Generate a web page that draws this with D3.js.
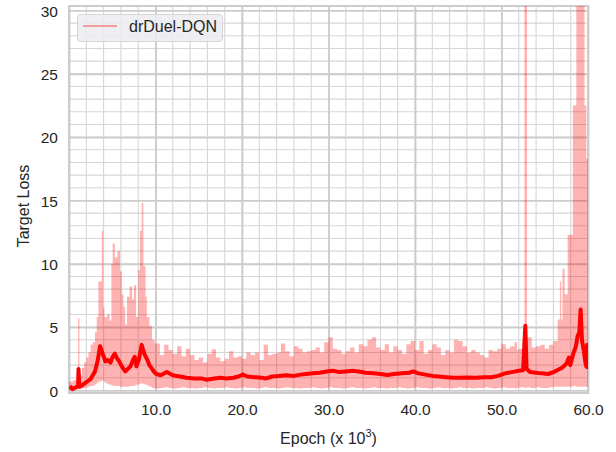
<!DOCTYPE html>
<html>
<head>
<meta charset="utf-8">
<script src="https://d3js.org/d3.v7.min.js"></script>
<style>
body { margin: 0; background: #fff; }
text { font-family: "Liberation Sans", Arial, sans-serif; fill: #262626; }
</style>
</head>
<body>
<script>
// band (min / max over runs), stepped
var bandEpoch = [0.0, 0.5, 1.0, 1.05, 1.2, 1.5, 1.75, 2.0, 2.25, 2.5, 2.75, 3.0, 3.2, 3.4, 3.8, 3.95, 4.1, 4.4, 4.7, 4.9,
  5.05, 5.3, 5.6, 5.9, 6.1, 6.3, 6.5, 6.7, 7.0, 7.3, 7.5, 7.75, 8.0, 8.2, 8.4, 8.6, 8.85, 9.0, 9.3, 9.6, 9.9,
  10.5, 11.0, 11.5, 12.0, 12.5, 13.0, 13.5, 14.0, 14.5, 15.0, 15.5, 16.0, 16.5, 17.0, 17.5, 18.0, 18.5, 19.0, 19.5,
  20.0, 20.5, 21.0, 21.5, 22.0, 22.5, 23.0, 23.5, 24.0, 24.5, 25.0, 25.5, 26.0, 26.5, 27.0, 27.5, 28.0, 28.5, 29.0, 29.5,
  30.0, 30.5, 31.0, 31.5, 32.0, 32.5, 33.0, 33.5, 34.0, 34.5, 35.0, 35.5, 36.0, 36.5, 37.0, 37.5, 38.0, 38.5, 39.0, 39.5,
  40.0, 40.5, 41.0, 41.5, 42.0, 42.5, 43.0, 43.5, 44.0, 44.5, 45.0, 45.5, 46.0, 46.5, 47.0, 47.5, 48.0, 48.5, 49.0, 49.5,
  50.0, 50.5, 51.0, 51.5, 51.8, 52.0, 52.65, 52.95, 53.3, 53.5, 54.0, 54.5, 55.0, 55.5, 56.0, 56.5, 56.75, 56.9, 57.05, 57.3,
  57.65, 58.25, 58.65, 59.6, 59.8, 60.0];
var bandLow = [0.0, 0.05, 0.1, 0.1, 0.1, 0.15, 0.2, 0.25, 0.3, 0.35, 0.4, 0.5, 0.6, 0.7, 0.8, 0.75, 0.6, 0.5, 0.45, 0.4,
  0.4, 0.35, 0.35, 0.3, 0.3, 0.3, 0.3, 0.3, 0.35, 0.35, 0.4, 0.45, 0.5, 0.55, 0.55, 0.5, 0.45, 0.4, 0.3, 0.2, 0.15,
  0.2, 0.25, 0.2, 0.15, 0.2, 0.25, 0.2, 0.2, 0.15, 0.2, 0.25, 0.2, 0.15, 0.2, 0.2, 0.25, 0.2, 0.15, 0.2,
  0.25, 0.2, 0.2, 0.15, 0.2, 0.25, 0.2, 0.2, 0.15, 0.2, 0.25, 0.2, 0.2, 0.15, 0.2, 0.2, 0.25, 0.2, 0.15, 0.2,
  0.25, 0.2, 0.2, 0.15, 0.2, 0.25, 0.2, 0.2, 0.15, 0.2, 0.25, 0.2, 0.2, 0.15, 0.2, 0.2, 0.25, 0.2, 0.15, 0.2,
  0.25, 0.2, 0.2, 0.15, 0.2, 0.25, 0.2, 0.2, 0.15, 0.2, 0.25, 0.2, 0.2, 0.15, 0.2, 0.2, 0.25, 0.2, 0.15, 0.2,
  0.25, 0.2, 0.2, 0.15, 0.2, 0.25, 0.2, 0.25, 0.2, 0.2, 0.25, 0.2, 0.2, 0.25, 0.3, 0.3, 0.3, 0.3, 0.3, 0.3,
  0.3, 0.35, 0.3, 0.3, 0.3, 0.3];
var bandHigh = [0.7, 0.8, 0.9, 5.7, 1.2, 1.8, 2.2, 2.6, 3.0, 3.6, 3.8, 4.6, 5.8, 8.6, 12.6, 6.5, 5.8, 6.0, 5.5, 10.0,
  11.6, 10.5, 11.0, 9.4, 7.6, 6.6, 5.2, 7.4, 8.2, 7.2, 8.3, 5.8, 9.5, 12.6, 14.8, 9.8, 7.4, 5.8, 5.1, 4.0, 3.7,
  2.8, 3.6, 3.2, 2.9, 3.5, 2.7, 3.3, 2.8, 2.4, 2.6, 2.2, 2.9, 3.25, 2.6, 2.3, 2.5, 3.1, 2.6, 2.7,
  2.5, 3.0, 2.8, 3.0, 2.4, 3.6, 2.8, 2.9, 3.0, 3.7, 3.1, 2.7, 3.5, 3.3, 3.0, 3.1, 3.2, 3.4, 3.0, 3.8,
  4.2, 3.3, 3.2, 2.9, 3.1, 3.4, 3.0, 3.65, 3.5, 4.0, 4.2, 3.4, 3.2, 3.65, 3.0, 3.5, 3.2, 2.9, 3.65, 3.9,
  3.2, 3.9, 2.9, 3.2, 3.65, 3.4, 2.8, 3.2, 3.0, 4.0, 3.9, 3.5, 3.0, 3.2, 3.0, 2.8, 2.6, 3.2, 3.1, 3.3,
  3.65, 3.3, 3.5, 3.8, 3.2, 3.3, 35, 4.2, 4.2, 3.4, 3.5, 3.6, 3.3, 3.6, 3.9, 5.6, 8.6, 5.6, 9.6, 7.6,
  12.3, 22.5, 35, 22.5, 18.3, 18.3];

// mean target loss
var meanEpoch = [0.1, 0.4, 0.8, 1.05, 1.1, 1.2, 1.5, 2.0, 2.5, 3.0, 3.3, 3.6, 3.8, 4.0, 4.2, 4.5, 4.8, 5.0, 5.3, 5.5,
  5.8, 6.1, 6.5, 6.8, 7.1, 7.4, 7.6, 7.8, 8.1, 8.4, 8.7, 9.0, 9.3, 9.6, 9.8, 10.1, 10.6, 11.3, 12.0, 12.8,
  13.6, 14.5, 15.3, 15.9, 16.8, 17.5, 18.2, 19.0, 19.6, 20.1, 20.6, 21.5, 22.3, 22.8, 23.5, 24.3, 25.1, 26.0, 26.8, 27.4,
  28.2, 29.0, 29.8, 30.5, 31.3, 32.0, 32.8, 33.5, 34.3, 35.2, 36.0, 36.8, 37.6, 38.5, 39.3, 39.8, 40.4, 41.2, 42.0, 42.8,
  43.6, 44.4, 45.2, 46.0, 47.0, 48.0, 48.8, 49.6, 50.4, 51.2, 52.0, 52.5, 52.75, 52.9, 53.3, 54.0, 54.6, 55.4, 56.0, 56.6,
  57.0, 57.5, 57.8, 57.95, 58.3, 58.6, 58.8, 59.0, 59.15, 59.3, 59.5, 59.7, 59.8, 59.9, 60.0];
var meanLoss = [0.35, 0.1, 0.25, 0.35, 1.7, 0.3, 0.4, 0.65, 0.9, 1.5, 2.3, 3.5, 3.1, 2.7, 2.3, 2.4, 2.2, 2.6, 2.9, 2.6,
  2.3, 1.9, 1.5, 1.7, 1.9, 2.4, 2.65, 1.9, 2.5, 3.6, 2.9, 2.5, 2.0, 1.7, 1.5, 1.3, 1.2, 1.45, 1.2, 1.1,
  1.0, 0.95, 0.95, 0.85, 0.95, 1.0, 0.95, 1.0, 1.1, 1.25, 1.1, 1.05, 1.0, 0.95, 1.1, 1.15, 1.2, 1.15, 1.25, 1.3,
  1.35, 1.4, 1.5, 1.55, 1.45, 1.5, 1.55, 1.5, 1.4, 1.35, 1.3, 1.22, 1.3, 1.35, 1.4, 1.5, 1.35, 1.25, 1.15, 1.1,
  1.05, 1.0, 1.0, 1.02, 1.0, 1.05, 1.05, 1.15, 1.35, 1.45, 1.55, 1.6, 5.1, 1.7, 1.45, 1.4, 1.35, 1.3, 1.45, 1.65,
  1.8, 2.1, 2.6, 2.0, 2.9, 3.5, 4.3, 4.6, 6.4, 4.0, 3.2, 2.2, 1.9, 3.6, 1.7];

var xTicks = [10, 20, 30, 40, 50, 60];
var yTicks = [0, 5, 10, 15, 20, 25, 30];

var w = 616, h = 452;
var pLeft = 69, pRight = 588, pTop = 6, pBottom = 393;

var svg = d3.select("body").append("svg").attr("width", w).attr("height", h);

var x = d3.scaleLinear().domain([0, 60]).range([pLeft, pRight]);
var y = d3.scaleLinear().domain([-0.2, 30.35]).range([pBottom, pTop]);

// minor grid
svg.append("g").selectAll("line").data(d3.range(0, 61, 2)).enter().append("line")
    .attr("x1", function(d){ return x(d); }).attr("x2", function(d){ return x(d); })
    .attr("y1", pTop).attr("y2", pBottom)
    .attr("stroke", "#d6d6d6").attr("stroke-width", 1.1);
svg.append("g").selectAll("line").data(d3.range(0, 31, 1)).enter().append("line")
    .attr("x1", pLeft).attr("x2", pRight)
    .attr("y1", function(d){ return y(d); }).attr("y2", function(d){ return y(d); })
    .attr("stroke", "#d6d6d6").attr("stroke-width", 1.1);

// major grid via axes
var gx = svg.append("g").attr("transform", "translate(0," + pBottom + ")")
    .call(d3.axisBottom(x).tickValues([0].concat(xTicks)).tickSize(-(pBottom - pTop)).tickFormat(function(d){ return d === 0 ? "" : d3.format(".1f")(d); }));
var gy = svg.append("g").attr("transform", "translate(" + pLeft + ",0)")
    .call(d3.axisLeft(y).tickValues(yTicks).tickSize(-(pRight - pLeft)).tickFormat(d3.format("d")));
[gx, gy].forEach(function(g){
    g.select(".domain").remove();
    g.selectAll(".tick line").attr("stroke", "#cccccc").attr("stroke-width", 1.8);
    g.selectAll(".tick text").attr("font-size", 15.5).attr("fill", "#262626")
        .style("font-family", "'Liberation Sans', Arial, sans-serif");
});
gx.selectAll(".tick text").attr("y", 11).attr("dy", "0.71em");
gy.selectAll(".tick text").attr("x", -11).attr("dy", "0.36em");

// frame
svg.append("rect").attr("x", pLeft).attr("y", pTop).attr("width", pRight - pLeft).attr("height", pBottom - pTop)
    .attr("fill", "none").attr("stroke", "#cccccc").attr("stroke-width", 2);

svg.append("clipPath").attr("id", "clip").append("rect")
    .attr("x", pLeft).attr("y", pTop).attr("width", pRight - pLeft).attr("height", pBottom - pTop);

var plot = svg.append("g").attr("clip-path", "url(#clip)");

var band = d3.area()
    .x(function(d){ return x(bandEpoch[d]); })
    .y0(function(d){ return y(bandLow[d]); })
    .y1(function(d){ return y(bandHigh[d]); })
    .curve(d3.curveStepAfter);
plot.append("path").datum(d3.range(bandEpoch.length))
    .attr("d", band).attr("fill", "rgba(255,0,0,0.3)");

var line = d3.line()
    .x(function(d){ return x(meanEpoch[d]); })
    .y(function(d){ return y(meanLoss[d]); });
plot.append("path").datum(d3.range(meanEpoch.length))
    .attr("d", line).attr("fill", "none").attr("stroke", "#ff0000")
    .attr("stroke-width", 4).attr("stroke-linejoin", "round");

// legend
var lg = svg.append("g");
lg.append("rect").attr("x", 77.5).attr("y", 14.5).attr("width", 145).attr("height", 27).attr("rx", 3)
    .attr("fill", "#ececf1").attr("fill-opacity", 0.85).attr("stroke", "#d6d6d6");
lg.append("line").attr("x1", 83).attr("x2", 117).attr("y1", 26).attr("y2", 26)
    .attr("stroke", "rgba(255,0,0,0.35)").attr("stroke-width", 2);
lg.append("text").attr("x", 129).attr("y", 26).attr("dy", "0.36em").attr("font-size", 16).text("drDuel-DQN");

// axis labels
var xl = svg.append("text").attr("x", (pLeft + pRight) / 2).attr("y", 444).attr("text-anchor", "middle").attr("font-size", 16);
xl.append("tspan").text("Epoch (x 10");
xl.append("tspan").attr("font-size", 11).attr("dy", -7).text("3");
xl.append("tspan").attr("dy", 7).text(")");

svg.append("text").attr("transform", "translate(29,206) rotate(-90)")
    .attr("text-anchor", "middle").attr("font-size", 16).text("Target Loss");
</script>
</body>
</html>
